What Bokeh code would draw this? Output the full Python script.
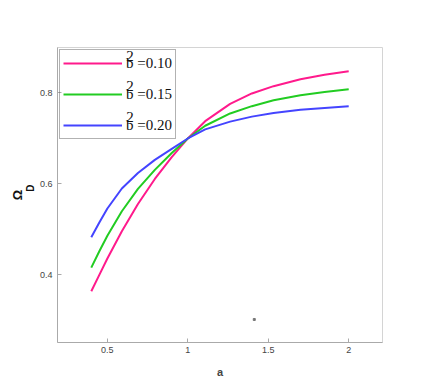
import numpy as np
from bokeh.plotting import figure
from bokeh.models import Range1d, Legend, LegendItem, Title, Label
from bokeh.embed import file_html
from bokeh.resources import INLINE

# data
a_vals = [0.4, 0.45, 0.5, 0.59, 0.69, 0.795, 0.9, 1.0, 1.108, 1.263, 1.398, 1.533, 1.7, 1.85, 2.0]
omega_010 = [0.364, 0.400, 0.436, 0.496, 0.556, 0.611, 0.659, 0.700, 0.738, 0.776, 0.799, 0.815, 0.830, 0.840, 0.848]
omega_015 = [0.416, 0.452, 0.486, 0.540, 0.589, 0.631, 0.668, 0.700, 0.728, 0.755, 0.771, 0.784, 0.795, 0.802, 0.808]
omega_020 = [0.483, 0.515, 0.546, 0.590, 0.624, 0.653, 0.677, 0.700, 0.720, 0.737, 0.748, 0.756, 0.763, 0.767, 0.771]
labels = ["b =0.10", "b =0.15", "b =0.20"]
colors = ["#ff1a8c", "#22cc22", "#4444ff"]
x_ticks = [0.5, 1, 1.5, 2]
x_tick_labels = ["0.5", "1", "1.5", "2"]
y_ticks = [0.4, 0.6, 0.8]
dot_a = [1.413]
dot_y = [0.302]

p = figure(width=428, height=380, output_backend="svg", toolbar_location=None,
           x_range=Range1d(0.19, 2.21), y_range=Range1d(0.2514, 0.9),
           min_border_left=57, min_border_top=47, min_border_right=46, min_border_bottom=36)
p.background_fill_color = "white"
p.border_fill_color = "white"
p.outline_line_color = "#d4d4d4"
p.outline_line_width = 1
p.xgrid.visible = False
p.ygrid.visible = False

renderers = []
for ys, c in zip([omega_010, omega_015, omega_020], colors):
    r = p.line(a_vals, ys, line_color=c, line_width=2)
    renderers.append(r)

p.scatter(dot_a, dot_y, size=2, color="#777777", marker="square")

for ax in (p.xaxis[0], p.yaxis[0]):
    ax.axis_line_color = "#aaaaaa"
    ax.major_tick_line_color = "#aaaaaa"
    ax.minor_tick_line_color = "#aaaaaa"
    ax.major_tick_in = 4
    ax.major_tick_out = 0
    ax.minor_tick_in = 2
    ax.minor_tick_out = 0
    ax.major_label_text_font = "Liberation Sans"
    ax.major_label_text_font_size = "9px"
    ax.major_label_text_color = "#444444"

p.xaxis.ticker = x_ticks
p.xaxis.ticker.num_minor_ticks = 5
p.xaxis.major_label_overrides = {t: l for t, l in zip(x_ticks, x_tick_labels)}
p.yaxis.ticker = y_ticks
p.yaxis.ticker.num_minor_ticks = 4
p.xaxis.major_label_standoff = 4
p.yaxis.major_label_standoff = 5

p.xaxis.axis_label = "a"
p.xaxis.axis_label_text_font = "Liberation Sans"
p.xaxis.axis_label_text_font_style = "bold"
p.xaxis.axis_label_text_font_size = "11px"
p.xaxis.axis_label_standoff = 10

legend = Legend(items=[LegendItem(label=l, renderers=[r]) for l, r in zip(labels, renderers)],
                location=(2, 203), orientation="vertical",
                glyph_width=59, glyph_height=20, label_height=20, label_standoff=4,
                spacing=11, padding=3, margin=0,
                label_text_font="Liberation Serif", label_text_font_size="15px",
                label_text_color="#111111",
                border_line_color="#666666", border_line_width=1,
                background_fill_alpha=0)
p.add_layout(legend, "center")

# superscript "2" over each legend "b"
for ly in [0.882, 0.815, 0.747]:
    p.add_layout(Label(x=0.641, y=ly, text="2",
                       text_align="center", text_baseline="middle",
                       text_font="Liberation Serif", text_font_size="15px",
                       text_color="#111111"))

# y axis label Omega_D as left titles (rotated)
p.add_layout(Title(text="\u00a0\u00a0\u00a0\u00a0\u00a0D", align="center", standoff=2,
                   text_font="Liberation Sans", text_font_size="10px", text_font_style="bold",
                   text_color="#111111"), "left")
p.add_layout(Title(text="Ω", align="center", standoff=-7,
                   text_font="Liberation Sans", text_font_size="13px", text_font_style="bold",
                   text_color="#111111"), "left")

open("out.html", "w").write(file_html(p, INLINE))
